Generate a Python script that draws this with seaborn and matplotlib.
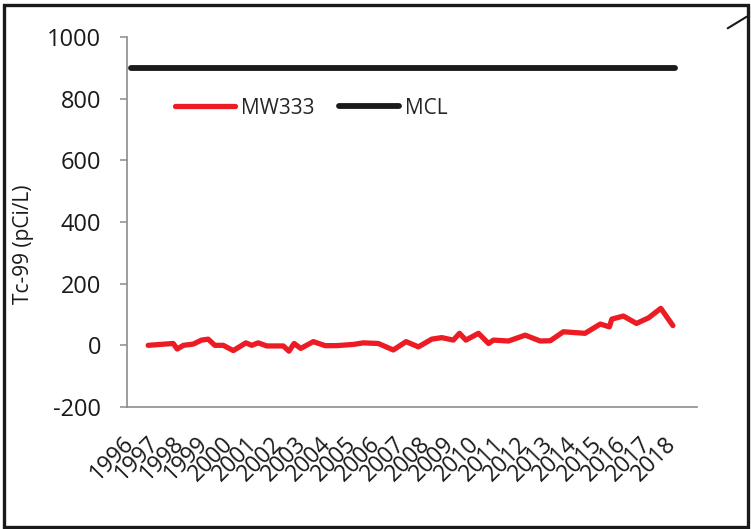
import numpy as np
import pandas as pd
import matplotlib.pyplot as plt
import seaborn as sns
from matplotlib.patches import Rectangle
from matplotlib.lines import Line2D

# ============================================================
# Data
# ============================================================

sample_year = [
    1996.70, 1997.72, 1997.88, 1998.13, 1998.53, 1998.87, 1999.14, 1999.41,
    1999.75, 2000.16, 2000.67, 2000.91, 2001.17, 2001.52, 2002.19, 2002.42,
    2002.63, 2002.90, 2003.41, 2003.89, 2004.36, 2005.04, 2005.44, 2006.05,
    2006.66, 2007.18, 2007.68, 2008.22, 2008.63, 2009.10, 2009.35, 2009.61,
    2010.12, 2010.53, 2010.73, 2011.34, 2012.02, 2012.63, 2013.04, 2013.57,
    2014.45, 2015.07, 2015.44, 2015.54, 2016.01, 2016.54, 2017.03, 2017.53,
    2018.02,
]
mw333 = [
    0, 6, -12, 0, 4, 17, 20, 0,
    0, -17, 8, 0, 8, -2, -2, -19,
    6, -10, 12, -1, -1, 3, 8, 6,
    -15, 12, -5, 20, 25, 17, 39, 17,
    39, 6, 17, 14, 33, 14, 15, 44,
    39, 69, 60, 85, 95, 71, 89, 120,
    64,
]

mcl_year = [1996.0, 2018.1]
mcl = [900, 900]

year_ticks = list(range(1996, 2019))
y_ticks = [-200, 0, 200, 400, 600, 800, 1000]

# ============================================================
# Style
# ============================================================

sns.set_theme(style="white")
plt.rcParams["font.family"] = ["Open Sans", "DejaVu Sans"]
plt.rcParams["axes.unicode_minus"] = False

GRAY = "#8c8c8c"
RED = "#ed1c24"
BLACK = "#1a1a1a"

df_mw = pd.DataFrame({"year": sample_year, "value": mw333, "series": "MW333"})
df_mcl = pd.DataFrame({"year": mcl_year, "value": mcl, "series": "MCL"})

fig = plt.figure(figsize=(7.51, 5.29), dpi=100)
ax = fig.add_axes([127 / 751, 1 - 407 / 529, 570 / 751, 370 / 529])

sns.lineplot(data=df_mw, x="year", y="value", color=RED, linewidth=3.8,
             label="MW333", ax=ax, solid_capstyle="round")
sns.lineplot(data=df_mcl, x="year", y="value", color=BLACK, linewidth=4.2,
             label="MCL", ax=ax, solid_capstyle="round")

ax.set_xlim(1995.84, 2019.0)
ax.set_ylim(-200, 1000)
ax.set_yticks(y_ticks)
ax.set_xticks(year_ticks)
ax.set_xticklabels([str(y) for y in year_ticks], rotation=45,
                   ha="right", va="center", rotation_mode="anchor")

for s in ["top", "right"]:
    ax.spines[s].set_visible(False)
for s in ["left", "bottom"]:
    ax.spines[s].set_color(GRAY)
    ax.spines[s].set_linewidth(1.2)

ax.tick_params(axis="y", direction="out", length=5, width=1.1, color=GRAY,
               pad=13.5, labelsize=17, labelcolor="#1a1a1a", left=True)
ax.tick_params(axis="x", length=0, pad=24, labelsize=16.5, labelcolor="#1a1a1a")

ax.set_xlabel("")
ax.set_ylabel("Tc-99 (pCi/L)", fontsize=15, color="#1a1a1a")
ax.yaxis.set_label_coords(-0.163, 0.44)

ax.legend(loc="center left", bbox_to_anchor=(0.084, 0.808), frameon=False,
          ncol=2, fontsize=15, handlelength=2.9, handletextpad=0.25,
          columnspacing=1.2, borderpad=0, borderaxespad=0)

# outer frame of the exported chart
fig.patches.append(Rectangle((4 / 751, 2 / 529), 744 / 751, 522 / 529,
                             transform=fig.transFigure, fill=False,
                             edgecolor=BLACK, linewidth=2.4))
fig.lines.append(Line2D([727.7 / 751, 746.7 / 751],
                        [1 - 28.3 / 529, 1 - 16.7 / 529],
                        transform=fig.transFigure, color=BLACK, linewidth=1.5))

fig.savefig("out.png", dpi=100)
